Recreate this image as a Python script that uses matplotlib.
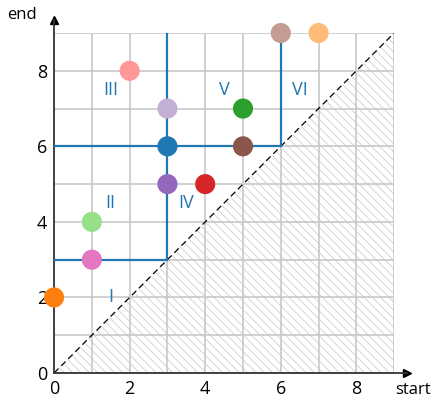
import numpy as np
import matplotlib.pyplot as plt
from matplotlib.patches import Polygon

plt.rcParams['font.family'] = ['Open Sans', 'DejaVu Sans']
plt.rcParams['hatch.linewidth'] = 0.6

# interval points (start, end)
starts = [0, 1, 1, 2, 3, 3, 3, 4, 5, 5, 6, 7]
ends = [2, 3, 4, 8, 7, 6, 5, 5, 7, 6, 9, 9]
colors = ['#ff7f0e', '#e377c2', '#98df8a', '#ff9896', '#c5b0d5', '#1f77b4',
          '#9467bd', '#d62728', '#2ca02c', '#8c564b', '#c49c94', '#ffbb78']

# region labels and their positions
region_names = ['I', 'II', 'III', 'IV', 'V', 'VI']
region_x = [1.5, 1.5, 1.5, 3.5, 4.5, 6.5]
region_y = [2.0, 4.5, 7.5, 4.5, 7.5, 7.5]

# boundary segments (x0, x1, y0, y1)
bounds = [(0, 3, 3, 3), (3, 3, 3, 9), (0, 6, 6, 6), (6, 6, 6, 9)]

lim = 9

fig = plt.figure(figsize=(4.36, 4.0), dpi=100)
ax = fig.add_axes([0.124, 0.0675, 0.78, 0.85])
ax.set_xlim(0, lim)
ax.set_ylim(0, lim)

ax.set_xticks(np.arange(0, lim + 1, 1), minor=True)
ax.set_yticks(np.arange(0, lim + 1, 1), minor=True)
ax.set_xticks([0, 2, 4, 6, 8])
ax.set_yticks([0, 2, 4, 6, 8])
ax.grid(True, which='both', color='#c8c8c8', lw=1.2, zorder=0)
ax.tick_params(which='both', length=0, labelsize=13, pad=5)

for s in ['top', 'right']:
    ax.spines[s].set_visible(False)
for s in ['left', 'bottom']:
    ax.spines[s].set_color('#333333')
    ax.spines[s].set_linewidth(1.3)

# forbidden region below the diagonal
tri = Polygon([(0, 0), (lim, 0), (lim, lim)], closed=True, facecolor='none',
              edgecolor='#cfcfcf', hatch='\\\\\\\\', lw=0, zorder=1)
ax.add_patch(tri)
ax.plot([0, lim], [0, lim], color='black', ls='--', lw=0.9, dashes=(5, 3), zorder=2)

for x0, x1, y0, y1 in bounds:
    ax.plot([x0, x1], [y0, y1], color='#1f77b4', lw=1.6, zorder=3)

ax.scatter(starts, ends, s=210, c=colors, zorder=5, clip_on=False, linewidths=0)

for name, x, y in zip(region_names, region_x, region_y):
    ax.text(x, y, name, color='#1f77b4', fontsize=13, ha='center', va='center', zorder=4)

# arrow axes
ax.spines['bottom'].set_bounds(0, lim + 0.35)
ax.spines['left'].set_bounds(0, lim + 0.35)
ax.plot(lim + 0.35, 0, '>', color='black', ms=6, clip_on=False)
ax.plot(0, lim + 0.35, '^', color='black', ms=6, clip_on=False)

ax.text(lim + 0.5, -0.45, 'start', fontsize=12, ha='center', va='center', clip_on=False)
ax.text(-0.85, lim + 0.47, 'end', fontsize=12, ha='center', va='center', clip_on=False)

fig.savefig('out.png', dpi=100)
